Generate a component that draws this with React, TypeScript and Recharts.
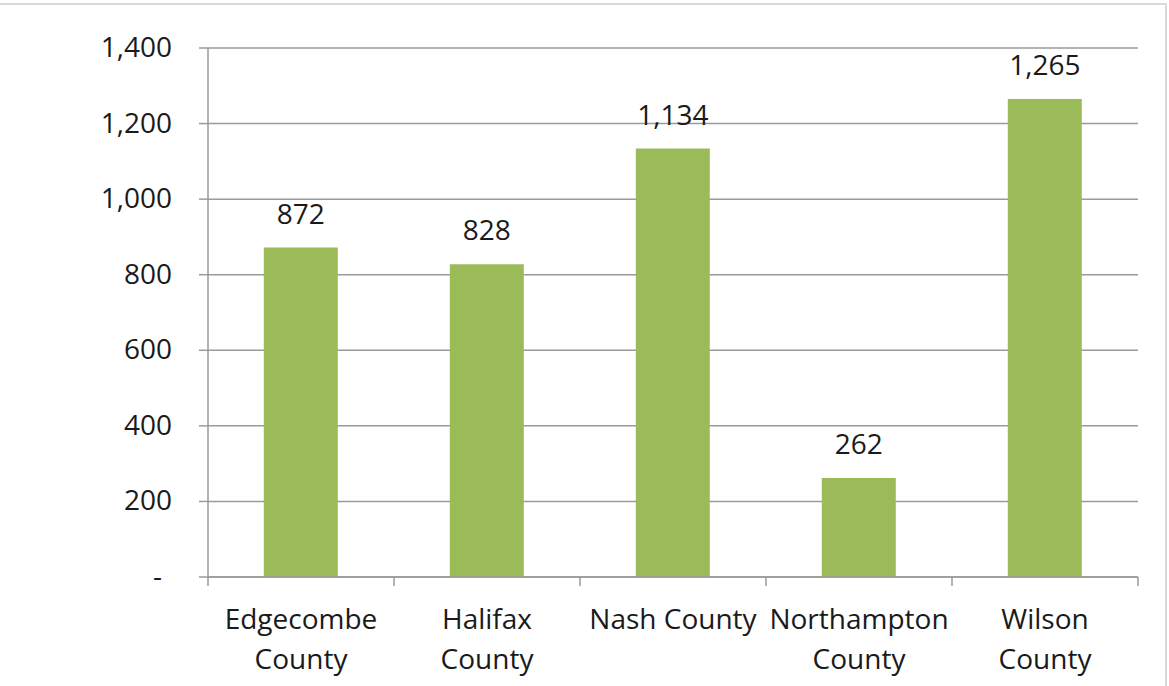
import { Bar, BarChart, CartesianGrid, LabelList, XAxis, YAxis } from "recharts";

const COUNTIES = ["Edgecombe County", "Halifax County", "Nash County", "Northampton County", "Wilson County"];
const TOTALS = [872, 828, 1134, 262, 1265];
const Y_TICKS = [0, 200, 400, 600, 800, 1000, 1200, 1400];

const FONT = "'Open Sans', sans-serif";
const TEXT = "#1a1a1a";
const GRID = "#9a9a9a";
const BAR = "#9bbb59";
const SIZE = 28;

const data = COUNTIES.map((name, i) => ({ name, total: TOTALS[i] }));

const fmt = (v: number) => (v === 0 ? "-" : v.toLocaleString("en-US"));

// long names wrap at the last space, like Excel does in a narrow category
function wrap(label: string): string[] {
  if (label.length <= 12) return [label];
  const cut = label.lastIndexOf(" ");
  return [label.slice(0, cut), label.slice(cut + 1)];
}

// category ticks: wrapped label + boundary tick marks (Excel-style)
function CountyTick(props: any) {
  const { x, y, payload, index, visibleTicksCount } = props;
  const half = 93;
  const lines = wrap(String(payload.value));
  return (
    <g>
      <line x1={x - half} x2={x - half} y1={y - 8} y2={y + 1} stroke={GRID} strokeWidth={1.5} />
      {index === visibleTicksCount - 1 && (
        <line x1={x + half} x2={x + half} y1={y - 8} y2={y + 1} stroke={GRID} strokeWidth={1.5} />
      )}
      <text x={x} y={y + 44} textAnchor="middle" fontFamily={FONT} fontSize={SIZE} fill={TEXT}>
        {lines.map((l, i) => (
          <tspan key={i} x={x} dy={i === 0 ? 0 : 40}>
            {l}
          </tspan>
        ))}
      </text>
    </g>
  );
}

function ValueTick(props: any) {
  const { x, y, payload } = props;
  const v = payload.value as number;
  return (
    <text
      x={v === 0 ? x - 10 : x}
      y={y}
      dy={9}
      textAnchor="end"
      fontFamily={FONT}
      fontSize={SIZE}
      fill={TEXT}
    >
      {fmt(v)}
    </text>
  );
}

export default function App() {
  return (
    <div
      style={{
        position: "absolute",
        left: 0,
        top: 0,
        width: 1169,
        height: 686,
        overflow: "hidden",
        background: "#fff",
      }}
    >
      <div
        style={{
          position: "absolute",
          left: -10,
          top: 3,
          width: 1177,
          height: 720,
          border: "2px solid #d9d9d9",
          boxSizing: "border-box",
        }}
      />
      <div style={{ position: "absolute", left: 0, top: 0 }}>
        <BarChart
          width={1169}
          height={686}
          data={data}
          margin={{ top: 48, right: 31, bottom: 0, left: 108 }}
          barCategoryGap="30%"
        >
          <CartesianGrid vertical={false} stroke={GRID} strokeWidth={1.5} />
          <XAxis
            dataKey="name"
            height={109}
            interval={0}
            tickLine={false}
            axisLine={{ stroke: GRID, strokeWidth: 1.5 }}
            tick={<CountyTick />}
          />
          <YAxis
            width={100}
            domain={[0, 1400]}
            ticks={Y_TICKS}
            interval={0}
            tickSize={9}
            tickMargin={27}
            tickLine={{ stroke: GRID, strokeWidth: 1.5 }}
            axisLine={{ stroke: GRID, strokeWidth: 1.5 }}
            tick={<ValueTick />}
          />
          <Bar dataKey="total" fill={BAR} isAnimationActive={false}>
            <LabelList
              dataKey="total"
              position="top"
              offset={24}
              formatter={(v: any) => fmt(Number(v))}
              style={{ fontFamily: FONT, fontSize: SIZE, fill: TEXT }}
            />
          </Bar>
        </BarChart>
      </div>
    </div>
  );
}
